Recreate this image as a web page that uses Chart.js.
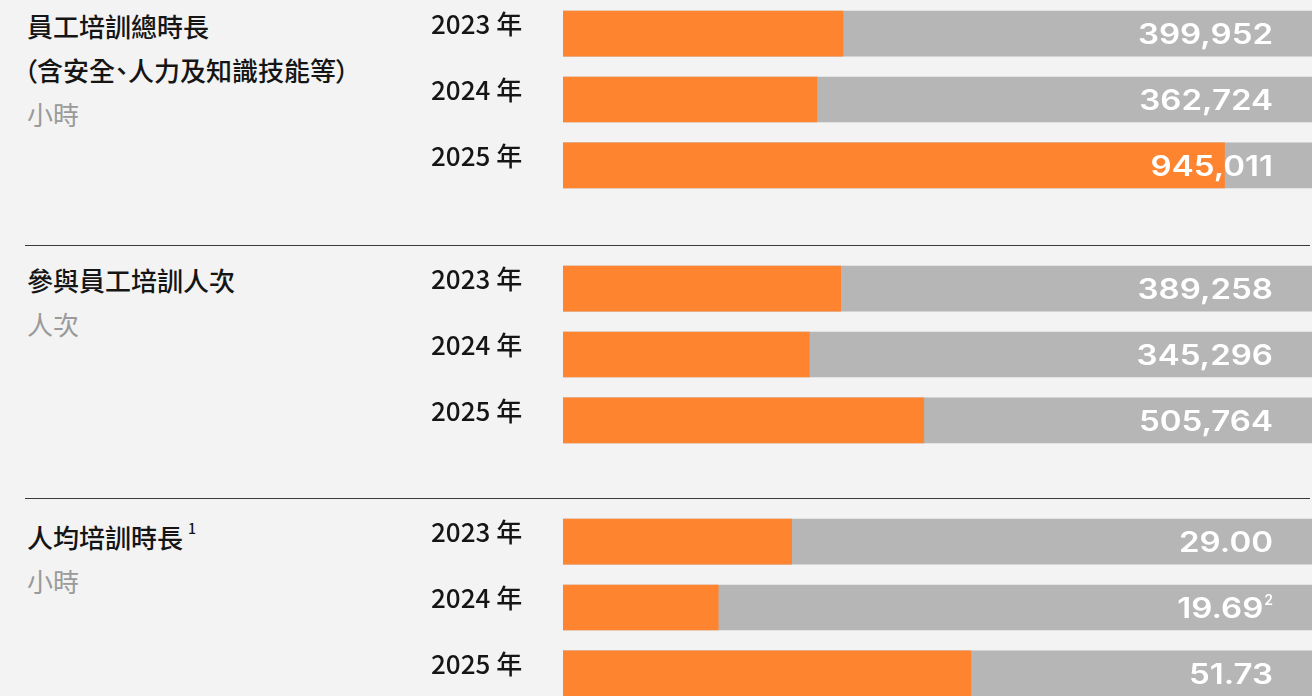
<!DOCTYPE html>
<html>
<head>
<meta charset="utf-8">
<script src="https://cdn.jsdelivr.net/npm/chart.js@4.4.1/dist/chart.umd.min.js"></script>
<style>
  html, body { margin: 0; padding: 0; }
  body {
    width: 1312px; height: 696px; overflow: hidden; position: relative;
    background: #f2f3f2;
    font-family: "Noto Sans CJK TC", "Noto Sans", sans-serif;
  }
  .label { position: absolute; left: 27px; font-size: 26px; line-height: 44px; }
  .label .t { color: #151515; font-weight: 500; }
  .label .u { color: #9a9a9a; font-weight: 400; }
  .label .p { font-feature-settings: "palt"; margin-left: -3px; }
  .label sup { font-size: 14px; position: relative; top: -4px; margin-left: 5px; }
  .rule { position: absolute; left: 25px; width: 1285px; height: 1px; background: #3a3a3a; }
  .box { position: absolute; left: 431px; width: 881px; height: 229px; }
</style>
</head>
<body>
<div class="label" style="top:4px"><div class="t">員工培訓總時長</div><div class="t p">（含安全、人力及知識技能等）</div><div class="u">小時</div></div>
<div class="rule" style="top:245px"></div>
<div class="label" style="top:258px"><div class="t">參與員工培訓人次</div><div class="u">人次</div></div>
<div class="rule" style="top:498px"></div>
<div class="label" style="top:510px"><div class="t">人均培訓時長<sup>1</sup></div><div class="u">小時</div></div>

<div class="box" style="top:-15px"><canvas id="c1"></canvas></div>
<div class="box" style="top:240px"><canvas id="c2"></canvas></div>
<div class="box" style="top:493px"><canvas id="c3"></canvas></div>

<script>
// categories
const years = ["2023 年", "2024 年", "2025 年"];

// series values
const totalHours = [399952, 362724, 945011];     // 員工培訓總時長 (小時)
const attendance = [389258, 345296, 505764];     // 參與員工培訓人次
const avgHours = [29.00, 19.69, 51.73];          // 人均培訓時長 (小時)
const avgNotes = ["", "2", ""];                  // footnote marks on values

// axis maxima (track length) per block
const axisMax = [1070000, 1050000, 95];

const ORANGE = "#fe8430";
const GREY = "#b5b6b5";

// white value text at the right end of each track
const valueLabels = {
  id: "valueLabels",
  afterDatasetsDraw(chart, args, opts) {
    const ctx = chart.ctx;
    const meta = chart.getDatasetMeta(0);
    const right = chart.chartArea.right - 39;
    const sx = 1.18; // wider digits, closer to the original face
    ctx.save();
    ctx.fillStyle = "#ffffff";
    ctx.textBaseline = "middle";
    ctx.textAlign = "right";
    meta.data.forEach((bar, i) => {
      const v = chart.data.datasets[0].data[i];
      const txt = opts.format(v);
      const note = opts.notes ? opts.notes[i] : "";
      let x = right;
      if (note) {
        ctx.font = "600 14px Inter, sans-serif";
        ctx.fillText(note, x, bar.y - 7);
        x -= ctx.measureText(note).width + 1;
      }
      ctx.font = "600 28px Inter, sans-serif";
      ctx.save();
      ctx.translate(x, bar.y + 2);
      ctx.scale(sx, 1);
      ctx.fillText(txt, 0, 0);
      ctx.restore();
    });
    ctx.restore();
  }
};

function makeChart(id, values, max, format, notes) {
  new Chart(document.getElementById(id), {
    type: "bar",
    data: {
      labels: years,
      datasets: [
        { data: values, backgroundColor: ORANGE, grouped: false },
        { data: years.map(() => max), backgroundColor: GREY, grouped: false },
      ],
    },
    options: {
      indexAxis: "y",
      responsive: true,
      maintainAspectRatio: false,
      animation: false,
      layout: { padding: 0 },
      barThickness: 45,
      scales: {
        x: { display: false, min: 0, max: max },
        y: {
          grid: { display: false },
          border: { display: false },
          afterFit: (axis) => { axis.width = 132; },
          ticks: {
            crossAlign: "far",
            labelOffset: -9,
            padding: 0,
            color: "#151515",
            font: { family: "'Noto Sans CJK TC', sans-serif", size: 26, weight: 500 },
          },
        },
      },
      plugins: {
        legend: { display: false },
        tooltip: { enabled: false },
        valueLabels: { format: format, notes: notes },
      },
    },
    plugins: [valueLabels],
  });
}

makeChart("c1", totalHours, axisMax[0], (v) => v.toLocaleString("en-US"));
makeChart("c2", attendance, axisMax[1], (v) => v.toLocaleString("en-US"));
makeChart("c3", avgHours, axisMax[2], (v) => v.toFixed(2), avgNotes);
</script>
</body>
</html>
